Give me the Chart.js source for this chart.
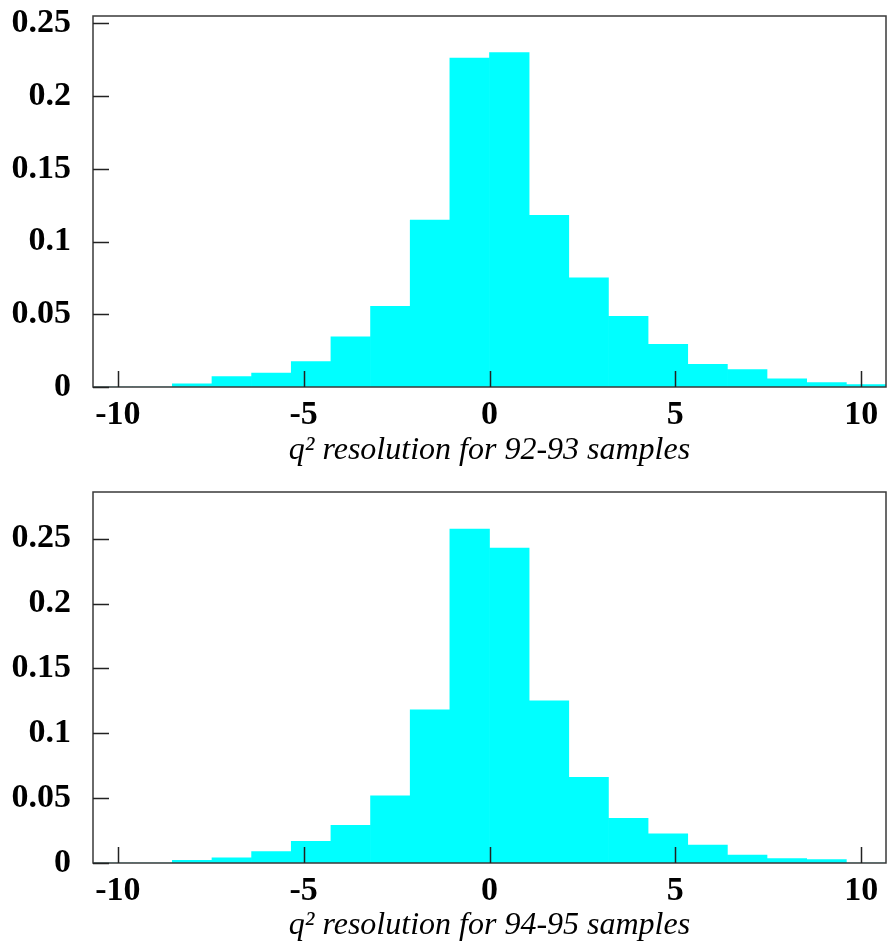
<!DOCTYPE html>
<html>
<head>
<meta charset="utf-8">
<script src="https://cdn.jsdelivr.net/npm/chart.js@4.4.0/dist/chart.umd.min.js"></script>
<style>
  body { margin: 0; background: #fff; }
  canvas { position: absolute; left: 0; }
</style>
</head>
<body>
<canvas id="top" width="888" height="476" style="top:0"></canvas>
<canvas id="bottom" width="888" height="475" style="top:476px"></canvas>
<script>
// bin centres (20 bins of width 16/15 between -10.67 and 10.67)
var binCenters = [-10.133, -9.067, -8.0, -6.933, -5.867, -4.8, -3.733, -2.667, -1.6, -0.533,
                  0.533, 1.6, 2.667, 3.733, 4.8, 5.867, 6.933, 8.0, 9.067, 10.133];
var res9293 = [0, 0, 0.0022, 0.0072, 0.0095, 0.0175, 0.0345, 0.0554, 0.1147, 0.2261,
               0.2298, 0.118, 0.0751, 0.0485, 0.0294, 0.0155, 0.012, 0.0056, 0.0031, 0.0017];
var res9495 = [0, 0, 0.0021, 0.0039, 0.0088, 0.0167, 0.0291, 0.0517, 0.118, 0.2575,
               0.2428, 0.125, 0.0661, 0.0345, 0.0224, 0.0139, 0.0062, 0.0034, 0.0026, 0];
var xTicks = [-10, -5, 0, 5, 10];
var yTicks = [0, 0.05, 0.1, 0.15, 0.2, 0.25];
var xRange = [-10.667, 10.667];

// frame around the plot + inward tick marks
var framePlugin = {
    id: 'frame',
    afterDraw: function (chart) {
        var ctx = chart.ctx;
        var a = chart.chartArea;
        var xs = chart.scales.x, ys = chart.scales.y;
        ctx.save();
        ctx.strokeStyle = '#3a3a3a';
        ctx.lineWidth = 1.5;
        ctx.strokeRect(a.left, a.top, a.right - a.left, a.bottom - a.top);
        ctx.strokeStyle = '#222';
        ctx.lineWidth = 1.5;
        ctx.beginPath();
        xTicks.forEach(function (v) {
            var px = Math.round(xs.getPixelForValue(v)) + 0.5;
            ctx.moveTo(px, a.bottom);
            ctx.lineTo(px, a.bottom - 16);
        });
        yTicks.forEach(function (v) {
            var py = Math.round(ys.getPixelForValue(v)) + 0.5;
            ctx.moveTo(a.left, py);
            ctx.lineTo(a.left + 16, py);
        });
        ctx.stroke();
        ctx.restore();
    }
};

function makeHist(id, values, ymax, title, axisH) {
    var pts = [];
    for (var i = 0; i < binCenters.length; i++) {
        pts.push({x: binCenters[i], y: values[i]});
    }
    return new Chart(document.getElementById(id), {
        type: 'bar',
        data: {
            datasets: [{
                data: pts,
                backgroundColor: '#00ffff',
                borderWidth: 0,
                barPercentage: 1.0,
                categoryPercentage: 1.0
            }]
        },
        options: {
            responsive: false,
            animation: false,
            layout: {padding: {top: 16, right: 2, left: 0, bottom: 0}},
            plugins: {legend: {display: false}, tooltip: {enabled: false}},
            scales: {
                x: {
                    type: 'linear',
                    offset: false,
                    min: xRange[0],
                    max: xRange[1],
                    grid: {display: false, drawTicks: false, offset: false},
                    border: {display: false},
                    afterBuildTicks: function (s) {
                        s.ticks = xTicks.map(function (v) { return {value: v}; });
                    },
                    afterFit: function (s) {
                        s.height = axisH;
                        s.paddingLeft = 0;
                        s.paddingRight = 0;
                    },
                    ticks: {
                        padding: 8,
                        color: '#000',
                        maxRotation: 0,
                        font: {family: 'Liberation Serif', size: 34, weight: 'bold'},
                        callback: function (v) { return String(v); }
                    },
                    title: {
                        display: true,
                        text: title,
                        color: '#000',
                        padding: {top: 0, bottom: 6},
                        font: {family: 'Liberation Serif', size: 32, style: 'italic'}
                    }
                },
                y: {
                    min: 0,
                    max: ymax,
                    grid: {display: false, drawTicks: false},
                    border: {display: false},
                    afterBuildTicks: function (s) {
                        s.ticks = yTicks.map(function (v) { return {value: v}; });
                    },
                    afterFit: function (s) {
                        s.width = 93;
                        s.paddingTop = 0;
                        s.paddingBottom = 0;
                    },
                    ticks: {
                        padding: 22,
                        color: '#000',
                        font: {family: 'Liberation Serif', size: 34, weight: 'bold'},
                        callback: function (v) { return String(v); }
                    }
                }
            }
        },
        plugins: [framePlugin]
    });
}

makeHist('top', res9293, 0.255, 'q\u00b2 resolution for 92-93 samples', 89);
makeHist('bottom', res9495, 0.286, 'q\u00b2 resolution for 94-95 samples', 88);
</script>
</body>
</html>
